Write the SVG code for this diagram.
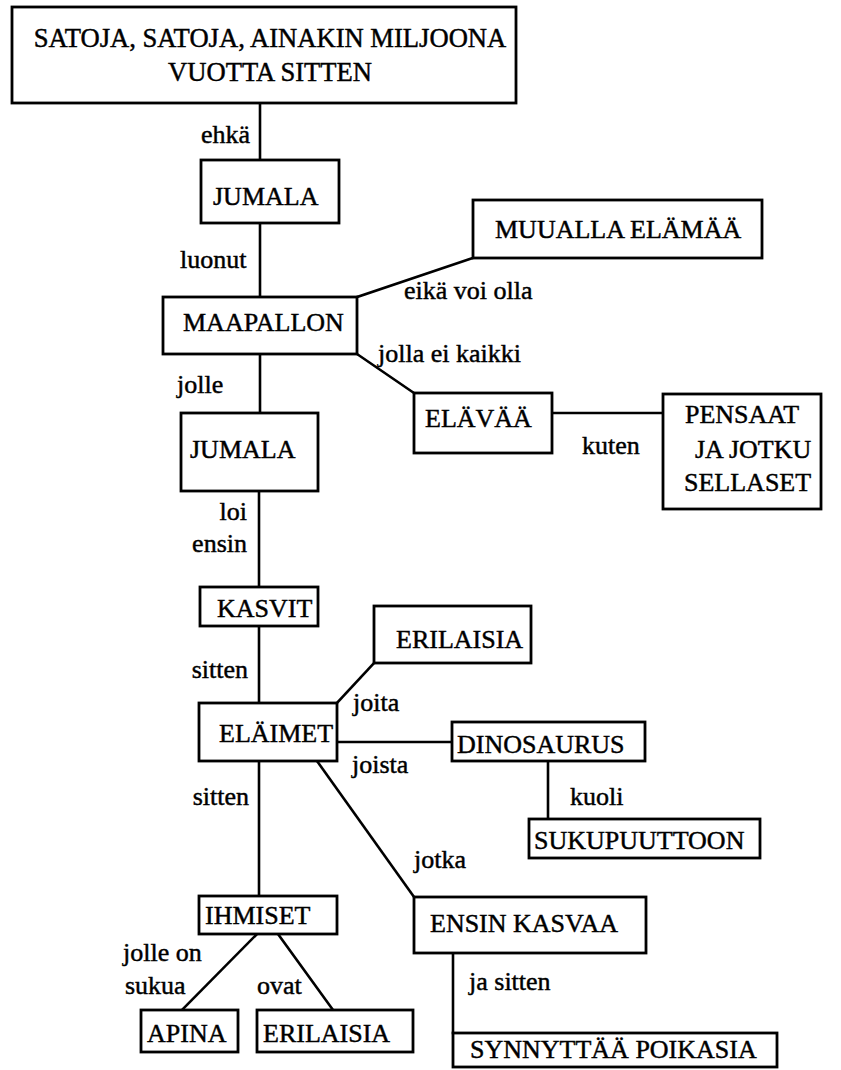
<svg xmlns="http://www.w3.org/2000/svg" width="841" height="1070" viewBox="0 0 841 1070" font-family="Liberation Serif, DejaVu Serif, serif">
  <style>
    .box { fill: #ffffff; stroke: #000000; stroke-width: 2.8; }
    .edge { fill: none; stroke: #000000; stroke-width: 2.6; stroke-linecap: square; }
    text { font-family: 'Liberation Serif', 'DejaVu Serif', serif; font-size: 26px; fill: #000000; stroke: #000000; stroke-width: 0.45; }
    .big { font-size: 26.6px; }
    .mid { text-anchor: middle; }
    .end { text-anchor: end; }
  </style>
  <rect width="841" height="1070" fill="#ffffff"/>

  <!-- connectors with their labels -->
  <g id="connectors">
    <line class="edge" x1="260" y1="103" x2="260" y2="160"/>
    <line class="edge" x1="260" y1="223" x2="260" y2="297"/>
    <line class="edge" x1="357" y1="297" x2="473" y2="258"/>
    <line class="edge" x1="357" y1="354" x2="414" y2="393"/>
    <line class="edge" x1="552" y1="413" x2="663" y2="413"/>
    <line class="edge" x1="260" y1="354" x2="260" y2="413"/>
    <line class="edge" x1="259" y1="491" x2="259" y2="587"/>
    <line class="edge" x1="259" y1="626" x2="259" y2="703"/>
    <line class="edge" x1="337" y1="703" x2="374" y2="663"/>
    <line class="edge" x1="337" y1="742" x2="452" y2="742"/>
    <line class="edge" x1="548" y1="761" x2="548" y2="819"/>
    <line class="edge" x1="259" y1="761" x2="259" y2="896"/>
    <line class="edge" x1="317" y1="761" x2="414" y2="897"/>
    <line class="edge" x1="453" y1="953" x2="453" y2="1033"/>
    <line class="edge" x1="257" y1="934" x2="182" y2="1010"/>
    <line class="edge" x1="278" y1="934" x2="333" y2="1010"/>

    <text class="end" x="250" y="143">ehkä</text>
    <text x="180" y="268">luonut</text>
    <text x="404" y="299">eikä voi olla</text>
    <text x="378" y="362">jolla ei kaikki</text>
    <text x="177" y="393">jolle</text>
    <text x="582" y="454">kuten</text>
    <text class="end" x="247" y="520">loi</text>
    <text class="end" x="247" y="552">ensin</text>
    <text class="end" x="248" y="678">sitten</text>
    <text x="353" y="711">joita</text>
    <text x="352" y="773">joista</text>
    <text x="570" y="805">kuoli</text>
    <text class="end" x="249" y="805">sitten</text>
    <text x="414" y="868">jotka</text>
    <text x="123" y="961">jolle on</text>
    <text x="125" y="994">sukua</text>
    <text x="257" y="994">ovat</text>
    <text x="469" y="990">ja sitten</text>
  </g>

  <g id="n-vuotta">
    <rect class="box" x="12" y="7" width="504" height="96"/>
    <text class="big mid" x="270" y="47">SATOJA, SATOJA, AINAKIN MILJOONA</text>
    <text class="big mid" x="270" y="81">VUOTTA SITTEN</text>
  </g>

  <g id="n-jumala1">
    <rect class="box" x="201" y="160" width="138" height="63"/>
    <text x="213" y="205">JUMALA</text>
  </g>

  <g id="n-muualla">
    <rect class="box" x="473" y="200" width="289" height="58"/>
    <text x="495" y="238">MUUALLA ELÄMÄÄ</text>
  </g>

  <g id="n-maapallon">
    <rect class="box" x="163" y="297" width="194" height="57"/>
    <text x="183" y="331">MAAPALLON</text>
  </g>

  <g id="n-elavaa">
    <rect class="box" x="414" y="393" width="138" height="60"/>
    <text x="425" y="427">ELÄVÄÄ</text>
  </g>

  <g id="n-pensaat">
    <rect class="box" x="663" y="394" width="158" height="115"/>
    <text x="685" y="423">PENSAAT</text>
    <text x="695" y="458">JA JOTKU</text>
    <text x="684" y="491">SELLASET</text>
  </g>

  <g id="n-jumala2">
    <rect class="box" x="181" y="413" width="137" height="78"/>
    <text x="190" y="458">JUMALA</text>
  </g>

  <g id="n-kasvit">
    <rect class="box" x="200" y="587" width="118" height="39"/>
    <text x="217" y="617">KASVIT</text>
  </g>

  <g id="n-erilaisia1">
    <rect class="box" x="374" y="606" width="157" height="57"/>
    <text x="396" y="648">ERILAISIA</text>
  </g>

  <g id="n-elaimet">
    <rect class="box" x="199" y="703" width="138" height="58"/>
    <text x="219" y="742">ELÄIMET</text>
  </g>

  <g id="n-dinosaurus">
    <rect class="box" x="452" y="722" width="193" height="39"/>
    <text x="457" y="753">DINOSAURUS</text>
  </g>

  <g id="n-sukupuuttoon">
    <rect class="box" x="529" y="819" width="231" height="39"/>
    <text x="534" y="849">SUKUPUUTTOON</text>
  </g>

  <g id="n-ihmiset">
    <rect class="box" x="199" y="896" width="138" height="38"/>
    <text x="205" y="924">IHMISET</text>
  </g>

  <g id="n-ensin-kasvaa">
    <rect class="box" x="414" y="897" width="232" height="56"/>
    <text x="430" y="932">ENSIN KASVAA</text>
  </g>

  <g id="n-apina">
    <rect class="box" x="141" y="1010" width="97" height="42"/>
    <text x="147" y="1042">APINA</text>
  </g>

  <g id="n-erilaisia2">
    <rect class="box" x="257" y="1010" width="156" height="42"/>
    <text x="263" y="1042">ERILAISIA</text>
  </g>

  <g id="n-synnyttaa">
    <rect class="box" x="453" y="1033" width="324" height="34"/>
    <text x="470" y="1058">SYNNYTTÄÄ POIKASIA</text>
  </g>
</svg>
